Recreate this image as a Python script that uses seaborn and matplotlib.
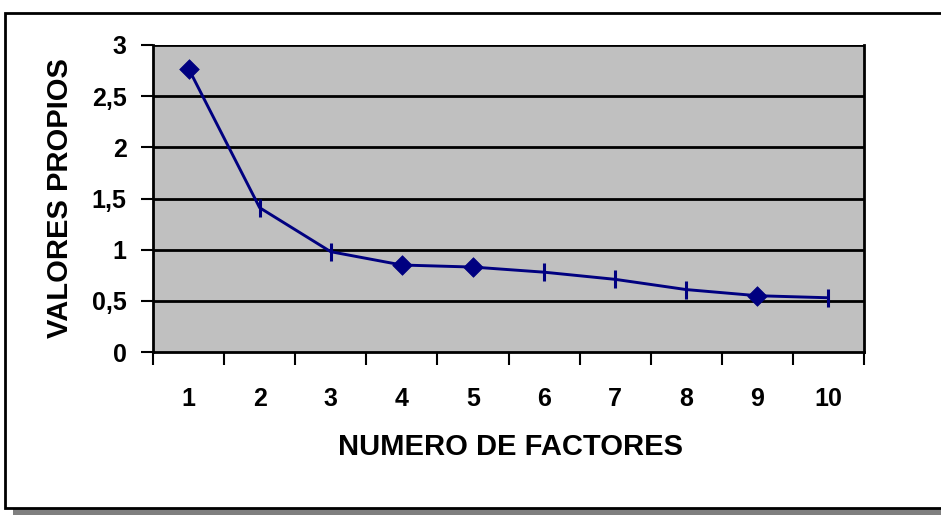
import matplotlib
matplotlib.use("Agg")
import matplotlib.pyplot as plt
import seaborn as sns
import pandas as pd
from matplotlib.patches import Rectangle

factores = [1, 2, 3, 4, 5, 6, 7, 8, 9, 10]
valores = [2.77, 1.41, 0.98, 0.85, 0.83, 0.78, 0.71, 0.61, 0.55, 0.53]
marcador = ["D", "|", "|", "D", "D", "|", "|", "|", "D", "|"]
yticks = [0, 0.5, 1, 1.5, 2, 2.5, 3]
ytick_labels = ["0", "0,5", "1", "1,5", "2", "2,5", "3"]
xlabel = "NUMERO DE FACTORES"
ylabel = "VALORES PROPIOS"

df = pd.DataFrame({"factor": factores, "valor": valores, "marca": marcador})

sns.set_style("white")
plt.rcParams["font.family"] = ["Liberation Sans", "DejaVu Sans"]
plt.rcParams["font.weight"] = "bold"
plt.rcParams["text.color"] = "black"
plt.rcParams["axes.labelcolor"] = "black"
plt.rcParams["xtick.color"] = "black"
plt.rcParams["ytick.color"] = "black"

fig = plt.figure(figsize=(9.41, 5.15), dpi=100)
W, H = 941, 515
ax = fig.add_axes([153 / W, 1 - 352 / H, (864 - 153) / W, (352 - 45) / H])
ax.set_zorder(2)
ax.set_facecolor("#C0C0C0")

navy = "#000080"
sns.lineplot(data=df, x="factor", y="valor", color=navy, linewidth=2.1, ax=ax, zorder=3)
dd = df[df["marca"] == "D"]
bb = df[df["marca"] == "|"]
sns.scatterplot(data=dd, x="factor", y="valor", marker="D", s=100, color=navy,
                edgecolor=navy, linewidth=0.5, ax=ax, zorder=4)
sns.scatterplot(data=bb, x="factor", y="valor", marker="|", s=150, color=navy,
                linewidth=2.2, ax=ax, zorder=4)

ax.set_xlim(0.5, 10.5)
ax.set_ylim(0, 3)
ax.set_yticks(yticks)
ax.set_yticklabels(ytick_labels)
ax.set_xticks([f for f in factores])
ax.set_xticklabels([str(f) for f in factores])
ax.set_xticks([f - 0.5 for f in factores] + [10.5], minor=True)
ax.tick_params(axis="x", which="major", length=0, pad=25, labelsize=18, labelcolor="black")
ax.tick_params(axis="x", which="minor", length=9, width=1.5, color="black", direction="out", bottom=True)
ax.tick_params(axis="y", which="major", length=9, width=1.5, color="black", direction="out", left=True,
               pad=10, labelsize=18, labelcolor="black")
for lab in ax.get_xticklabels() + ax.get_yticklabels():
    lab.set_fontweight("bold")

for y in yticks[1:]:
    ax.axhline(y, color="black", linewidth=2, zorder=1)

for side in ["left", "bottom", "right"]:
    ax.spines[side].set_visible(True)
    ax.spines[side].set_color("black")
    ax.spines[side].set_linewidth(2)
ax.spines["top"].set_visible(False)

ax.set_xlabel(xlabel, fontsize=21, fontweight="bold", color="black")
ax.set_ylabel(ylabel, fontsize=21, fontweight="bold", color="black")
ax.xaxis.set_label_coords((510 - 153) / (864 - 153), (352 - 447) / (352 - 45))
ax.yaxis.set_label_coords((60 - 153) / (864 - 153), 0.5)
ax.xaxis.label.set_va("center")
ax.yaxis.label.set_va("center")

# outer chart border with shadow
fig.patches.append(Rectangle((13 / W, 0), 1, 8 / H, transform=fig.transFigure,
                             facecolor="#808080", edgecolor="none", zorder=-2))
fig.patches.append(Rectangle((5 / W, 1 - 508 / H), 1, (508 - 13) / H, transform=fig.transFigure,
                             facecolor="white", edgecolor="black", linewidth=2, zorder=-1))

fig.savefig("out.png", dpi=100)
